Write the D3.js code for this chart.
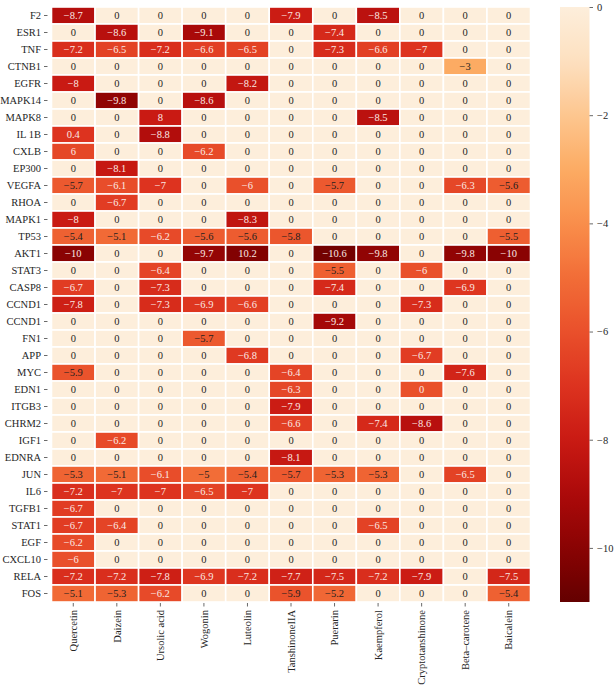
<!DOCTYPE html>
<html><head><meta charset="utf-8">
<script src="https://cdn.jsdelivr.net/npm/d3@7"></script>
<style>body{margin:0;background:#fff}svg{display:block}</style>
</head><body>
<script>
const compounds = ["Quercetin","Daizein","Ursolic acid","Wogonin","Luteolin","TanshinoneIIA","Puerarin","Kaempferol","Cryptotanshinone","Beta\u2013carotene","Baicalein"];
const targets = ["F2","ESR1","TNF","CTNB1","EGFR","MAPK14","MAPK8","IL 1B","CXLB","EP300","VEGFA","RHOA","MAPK1","TP53","AKT1","STAT3","CASP8","CCND1","CCND1","FN1","APP","MYC","EDN1","ITGB3","CHRM2","IGF1","EDNRA","JUN","IL6","TGFB1","STAT1","EGF","CXCL10","RELA","FOS"];
// docking scores (colour values), one row per target
const scores = [
 [-8.7,0,0,0,0,-7.9,0,-8.5,0,0,0],
 [0,-8.6,0,-9.1,0,0,-7.4,0,0,0,0],
 [-7.2,-6.5,-7.2,-6.6,-6.5,0,-7.3,-6.6,-7,0,0],
 [0,0,0,0,0,0,0,0,0,-3,0],
 [-8,0,0,0,-8.2,0,0,0,0,0,0],
 [0,-9.8,0,-8.6,0,0,0,0,0,0,0],
 [0,0,-8,0,0,0,0,-8.5,0,0,0],
 [-7,0,-8.8,0,0,0,0,0,0,0,0],
 [-6.3,0,0,-6.2,0,0,0,0,0,0,0],
 [0,-8.1,0,0,0,0,0,0,0,0,0],
 [-5.7,-6.1,-7,0,-6,0,-5.7,0,0,-6.3,-5.6],
 [0,-6.7,0,0,0,0,0,0,0,0,0],
 [-8,0,0,0,-8.3,0,0,0,0,0,0],
 [-5.4,-5.1,-6.2,-5.6,-5.6,-5.8,0,0,0,0,-5.5],
 [-10,0,0,-9.7,-10.2,0,-10.6,-9.8,0,-9.8,-10],
 [0,0,-6.4,0,0,0,-5.5,0,-6,0,0],
 [-6.7,0,-7.3,0,0,0,-7.4,0,0,-6.9,0],
 [-7.8,0,-7.3,-6.9,-6.6,0,0,0,-7.3,0,0],
 [0,0,0,0,0,0,-9.2,0,0,0,0],
 [0,0,0,-5.7,0,0,0,0,0,0,0],
 [0,0,0,0,-6.8,0,0,0,-6.7,0,0],
 [-5.9,0,0,0,0,-6.4,0,0,0,-7.6,0],
 [0,0,0,0,0,-6.3,0,0,-6,0,0],
 [0,0,0,0,0,-7.9,0,0,0,0,0],
 [0,0,0,0,0,-6.6,0,-7.4,-8.6,0,0],
 [0,-6.2,0,0,0,0,0,0,0,0,0],
 [0,0,0,0,0,-8.1,0,0,0,0,0],
 [-5.3,-5.1,-6.1,-5,-5.4,-5.7,-5.3,-5.3,0,-6.5,0],
 [-7.2,-7,-7,-6.5,-7,0,0,0,0,0,0],
 [-6.7,0,0,0,0,0,0,0,0,0,0],
 [-6.7,-6.4,0,0,0,0,0,-6.5,0,0,0],
 [-6.2,0,0,0,0,0,0,0,0,0,0],
 [-6,0,0,0,0,0,0,0,0,0,0],
 [-7.2,-7.2,-7.8,-6.9,-7.2,-7.7,-7.5,-7.2,-7.9,0,-7.5],
 [-5.1,-5.3,-6.2,0,0,-5.9,-5.2,0,0,0,-5.4]
];
// cells whose printed annotation differs from the colour value: [row, col, text]
const labelOverrides = [[6,2,"8"],[7,0,"0.4"],[8,0,"6"],[14,4,"10.2"],[22,8,"0"]];
const colorTicks = [0,-2,-4,-6,-8,-10];
const colorDomain = [-11,0];
const paletteStops = [-11,-10,-9,-8,-7,-6,-5,-4,-3,-2,-1,0];
const paletteColors = ["#640000","#8a0303","#ac0a0a","#c91a13","#dd331f","#e9502b","#f26d37","#f98e4b","#fcab63","#fdc68f","#fde0c0","#fdeedb"];

const W=614,H=689;
const svg=d3.select("body").append("svg").attr("width",W).attr("height",H);
const font="'Liberation Serif','Times New Roman',serif";
const gx0=51.5,gx1=530.5,gy0=7,gy1=602;
const x=d3.scaleBand().domain(d3.range(compounds.length)).range([gx0,gx1]);
const y=d3.scaleBand().domain(d3.range(targets.length)).range([gy0,gy1]);
const color=d3.scaleLinear().domain(paletteStops).range(paletteColors).interpolate(d3.interpolateRgb).clamp(true);
const fmt=v=>v===0?"0":String(v).replace("-","\u2212");
const cells=[];
scores.forEach((row,i)=>row.forEach((v,j)=>cells.push({i,j,v,t:fmt(v)})));
labelOverrides.forEach(([i,j,t])=>{cells.find(c=>c.i===i&&c.j===j).t=t;});
const g=svg.append("g");
g.selectAll("rect").data(cells).join("rect")
 .attr("x",d=>x(d.j)).attr("y",d=>y(d.i))
 .attr("width",x.bandwidth()).attr("height",y.bandwidth())
 .attr("fill",d=>color(d.v)).attr("stroke","#fff").attr("stroke-width",1.6);
g.selectAll("text").data(cells).join("text")
 .attr("x",d=>x(d.j)+x.bandwidth()/2).attr("y",d=>y(d.i)+y.bandwidth()/2)
 .attr("dy","0.35em").attr("text-anchor","middle")
 .attr("font-family",font).attr("font-size",10.5)
 .attr("fill",d=>d.v>-5.95?"#1e1e1e":"#fbe9e4")
 .text(d=>d.t);
// y axis
const ya=svg.append("g").attr("transform",`translate(${gx0-4},0)`)
 .call(d3.axisLeft(y).tickFormat(i=>targets[i]).tickSize(3.5).tickPadding(3));
ya.select(".domain").remove();
// x axis
const xa=svg.append("g").attr("transform",`translate(0,${gy1+1})`)
 .call(d3.axisBottom(x).tickFormat(i=>compounds[i]).tickSize(3.5).tickPadding(3));
xa.select(".domain").remove();
xa.selectAll("text").attr("transform","rotate(-90)").attr("text-anchor","end")
 .attr("x",-7).attr("y",0).attr("dy","0.35em");
[ya,xa].forEach(a=>{a.selectAll("text").attr("font-family",font).attr("font-size",10.5).attr("fill","#262626");
 a.selectAll("line").attr("stroke","#444").attr("stroke-width",0.8);});
// colorbar
const cbx=560,cbw=29.5;
const cy=d3.scaleLinear().domain(colorDomain).range([gy1,gy0]);
const defs=svg.append("defs");
const lg=defs.append("linearGradient").attr("id","cb").attr("x1",0).attr("x2",0).attr("y1",1).attr("y2",0);
d3.range(0,1.0001,0.02).forEach(t=>{lg.append("stop").attr("offset",t).attr("stop-color",color(colorDomain[0]+t*(colorDomain[1]-colorDomain[0])));});
svg.append("rect").attr("x",cbx).attr("y",gy0).attr("width",cbw).attr("height",gy1-gy0).attr("fill","url(#cb)");
const ca=svg.append("g").attr("transform",`translate(${cbx+cbw},0)`)
 .call(d3.axisRight(cy).tickValues(colorTicks).tickFormat(v=>fmt(v)).tickSize(3.5).tickPadding(4));
ca.select(".domain").remove();
ca.selectAll("text").attr("font-family",font).attr("font-size",10.5).attr("fill","#262626");
ca.selectAll("line").attr("stroke","#444").attr("stroke-width",0.8);
</script>
</body></html>
